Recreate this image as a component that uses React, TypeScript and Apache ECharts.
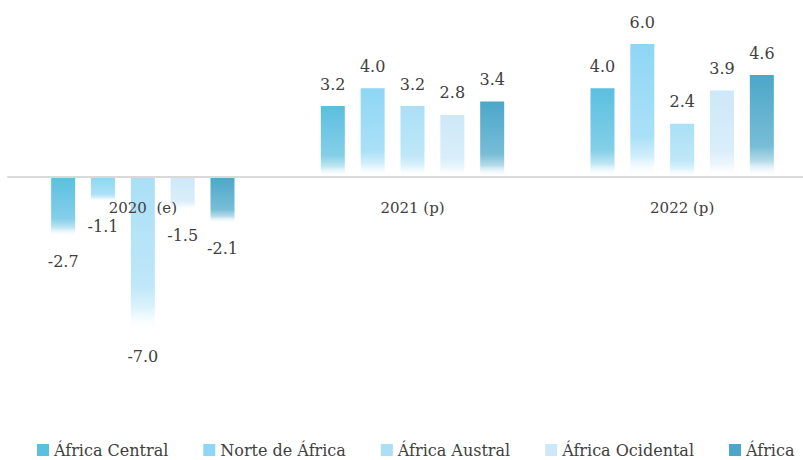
import React, { useEffect, useRef } from "react";
import * as echarts from "echarts";

const categories = ["2020  (e)", "2021 (p)", "2022 (p)"];
const seriesNames = ["África Central", "Norte de África", "África Austral", "África Ocidental", "África"];
const africaCentral = [-2.7, 3.2, 4.0];
const norteDeAfrica = [-1.1, 4.0, 6.0];
const africaAustral = [-7.0, 3.2, 2.4];
const africaOcidental = [-1.5, 2.8, 3.9];
const africa = [-2.1, 3.4, 4.6];
const seriesColors = ["#5BBFE0", "#8ED6F4", "#AADFF6", "#CDE8F8", "#4BA7C9"];

const FONT = "DejaVu Serif";
const Y_MIN = -10;
const Y_MAX = 7;
const GRID_TOP = 22;
const GRID_H = 376;

function hexToRgba(hex: string, a: number) {
  const n = parseInt(hex.slice(1), 16);
  return `rgba(${(n >> 16) & 255},${(n >> 8) & 255},${n & 255},${a})`;
}

export default function App() {
  const ref = useRef<HTMLDivElement>(null);
  useEffect(() => {
    if (!ref.current) return;
    document.body.style.overflow = "hidden";
    const chart = echarts.init(ref.current, undefined, { renderer: "svg" });
    const datas = [africaCentral, norteDeAfrica, africaAustral, africaOcidental, africa];
    const series = datas.map((d, i) => ({
      name: seriesNames[i],
      type: "bar",
      barWidth: 24,
      barGap: "66%",
      z: 2,
      data: d.map((v) => ({
        value: v,
        label: {
          position: v < 0 ? "bottom" : "top",
          distance: v < 0 ? 17 : 14,
        },
      })),
      itemStyle: {
        color: new echarts.graphic.LinearGradient(0, 0, 0, 1, [
          { offset: 0, color: seriesColors[i] },
          { offset: 0.7, color: hexToRgba(seriesColors[i], 0.75) },
          { offset: 0.85, color: hexToRgba(seriesColors[i], 0.4) },
          { offset: 1, color: "rgba(255,255,255,0)" },
        ]),
      },
      label: {
        show: true,
        formatter: (p: any) => Number(p.value).toFixed(1),
        fontFamily: FONT,
        fontSize: 16,
        color: "#404040",
      },
    }));
    const zeroOffset = -(GRID_H * (0 - Y_MIN)) / (Y_MAX - Y_MIN);
    chart.setOption({
      animation: false,
      backgroundColor: "#ffffff",
      color: seriesColors,
      grid: { left: 8, top: GRID_TOP, width: 809, height: GRID_H, containLabel: false },
      legend: {
        left: 37,
        top: 442,
        width: 780,
        padding: 0,
        itemWidth: 12,
        itemHeight: 12,
        itemGap: 35,
        icon: "rect",
        data: seriesNames.map((n, i) => ({ name: n, itemStyle: { color: seriesColors[i] } })),
        textStyle: { fontFamily: FONT, fontSize: 16, color: "#404040" },
      },
      xAxis: {
        type: "category",
        data: categories,
        position: "bottom",
        offset: zeroOffset,
        z: 10,
        axisLine: { show: true, onZero: false, lineStyle: { color: "#D9D9D9", width: 2 } },
        axisTick: { show: false },
        axisLabel: { margin: 24, fontFamily: FONT, fontSize: 15, color: "#404040" },
        splitLine: { show: false },
      },
      yAxis: {
        type: "value",
        min: Y_MIN,
        max: Y_MAX,
        show: false,
        splitLine: { show: false },
      },
      series,
    });
    return () => chart.dispose();
  }, []);
  return <div ref={ref} style={{ position: "fixed", left: 0, top: 0, width: 830, height: 460 }} />;
}
